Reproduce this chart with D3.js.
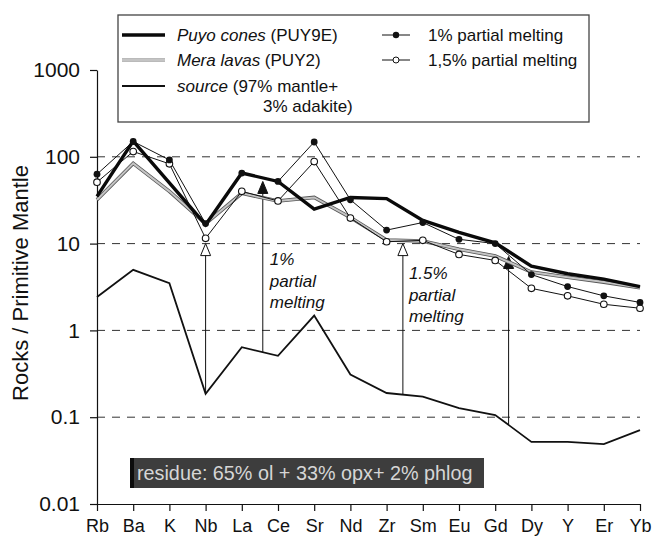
<!DOCTYPE html>
<html>
<head>
<meta charset="utf-8">
<script src="https://cdn.jsdelivr.net/npm/d3@7"></script>
<style>
  html, body { margin: 0; padding: 0; background: #fff; }
  svg { display: block; font-family: "Liberation Sans", Arial, sans-serif; }
</style>
</head>
<body>
<svg id="chart" width="654" height="542"></svg>
<script>
// Trace elements, normalised to primitive mantle
const elements = ["Rb","Ba","K","Nb","La","Ce","Sr","Nd","Zr","Sm","Eu","Gd","Dy","Y","Er","Yb"];
const puyoCones = [35,152,50,16.5,65,52,25,34,33,18.5,13.5,10.2,5.5,4.5,3.9,3.2];
const meraLavas = [32,84,40,17,38,31,34,20,11,10.7,8.6,7.2,4.7,4.1,3.6,3.1];
const melt1     = [63,150,92,17,65,52,148,32,14.3,17.5,11.2,10,4.4,3.2,2.5,2.1];
const melt15    = [51,115,83,11.5,40,31,88,19.7,10.5,10.9,7.5,6.4,3.05,2.5,2.0,1.8];
const source    = [2.42,4.98,3.5,0.186,0.64,0.51,1.48,0.31,0.19,0.173,0.127,0.106,0.052,0.052,0.049,0.071];
const yTicks = [0.01,0.1,1,10,100,1000];
const yTickLabels = ["0.01","0.1","1","10","100","1000"];
const gridValues = [0.1,1,10,100];

// melting arrows: position along the element axis (index), value at the head, head style
const arrowPos   = [3, 4.58, 8.45, 11.37];
const arrowTop   = [10, 52, 10, 7.1];
const arrowOpen  = [true, false, true, false];

const svg = d3.select("#chart");

const x = d3.scalePoint().domain(elements).range([97, 640]);
const xi = d3.scaleLinear().domain([0, elements.length - 1]).range(x.range());
const y = d3.scaleLog().domain([0.01, 1000]).range([504, 70]);

// dashed reference lines
svg.append("g").selectAll("line").data(gridValues).join("line")
  .attr("x1", x.range()[0]).attr("x2", x.range()[1])
  .attr("y1", d => y(d)).attr("y2", d => y(d))
  .attr("stroke", "#333").attr("stroke-width", 1).attr("stroke-dasharray", "8,7");

// axes
const yAxis = svg.append("g").attr("transform", `translate(${x.range()[0]},0)`)
  .call(d3.axisLeft(y).tickValues(yTicks).tickSize(7).tickSizeOuter(0).tickPadding(10)
    .tickFormat((d, i) => yTickLabels[i]));
yAxis.selectAll("text").attr("font-size", 21).attr("fill", "#111")
  .attr("font-family", "Liberation Sans, Arial, sans-serif");

const xAxis = svg.append("g").attr("transform", `translate(0,${y(0.01)})`)
  .call(d3.axisBottom(x).tickSize(7).tickSizeOuter(0).tickPadding(8));
xAxis.selectAll("text").attr("font-size", 18).attr("fill", "#111")
  .attr("font-family", "Liberation Sans, Arial, sans-serif");
svg.selectAll(".domain, .tick line").attr("stroke", "#111").attr("stroke-width", 1.2);

svg.append("text")
  .attr("transform", "translate(28,283) rotate(-90)")
  .attr("text-anchor", "middle").attr("font-size", 22).attr("fill", "#111")
  .text("Rocks / Primitive Mantle");

const line = d3.line().x((d, i) => x(elements[i])).y(d => y(d));

// source curve and arrows from it
svg.append("path").datum(source).attr("d", line)
  .attr("fill", "none").attr("stroke", "#111").attr("stroke-width", 1.8).attr("stroke-linejoin", "miter");

function sourceAt(p) {
  const i = Math.min(Math.floor(p), source.length - 2), t = p - i;
  return Math.pow(10, Math.log10(source[i]) * (1 - t) + Math.log10(source[i + 1]) * t);
}
const arrows = svg.append("g");
arrowPos.forEach((p, k) => {
  const ax = xi(p), yTop = y(arrowTop[k]), yBot = y(sourceAt(p));
  arrows.append("line").attr("x1", ax).attr("x2", ax).attr("y1", yTop + 10).attr("y2", yBot)
    .attr("stroke", "#111").attr("stroke-width", 1);
  arrows.append("path")
    .attr("d", `M${ax},${yTop} L${ax - 5},${yTop + 12} L${ax + 5},${yTop + 12} Z`)
    .attr("fill", arrowOpen[k] ? "#fff" : "#111").attr("stroke", "#111").attr("stroke-width", 1);
});

// annotation labels next to the arrows
const noteLines1 = ["1%", "partial", "melting"];
const noteLines15 = ["1.5%", "partial", "melting"];
function note(lines, ax, yStart) {
  svg.append("g").selectAll("text").data(lines).join("text")
    .attr("x", ax).attr("y", (d, i) => yStart + i * 21.5)
    .attr("font-size", 17).attr("font-style", "italic").attr("fill", "#111")
    .text(d => d);
}
note(noteLines1, xi(arrowPos[1]) + 7, 265);
note(noteLines15, xi(arrowPos[2]) + 6, 279);

// Mera lavas: grey band with dark edges
svg.append("path").datum(meraLavas).attr("d", line)
  .attr("fill", "none").attr("stroke", "#555").attr("stroke-width", 3.6);
svg.append("path").datum(meraLavas).attr("d", line)
  .attr("fill", "none").attr("stroke", "#c4c4c4").attr("stroke-width", 2);

// partial-melting model curves
svg.append("path").datum(melt15).attr("d", line)
  .attr("fill", "none").attr("stroke", "#111").attr("stroke-width", 1);
svg.append("path").datum(melt1).attr("d", line)
  .attr("fill", "none").attr("stroke", "#111").attr("stroke-width", 1);

// Puyo cones: thick black
svg.append("path").datum(puyoCones).attr("d", line)
  .attr("fill", "none").attr("stroke", "#0a0a0a").attr("stroke-width", 3.4).attr("stroke-linejoin", "miter");

svg.append("g").selectAll("circle").data(melt15).join("circle")
  .attr("cx", (d, i) => x(elements[i])).attr("cy", d => y(d)).attr("r", 3.3)
  .attr("fill", "#fff").attr("stroke", "#111").attr("stroke-width", 1.1);
svg.append("g").selectAll("circle").data(melt1).join("circle")
  .attr("cx", (d, i) => x(elements[i])).attr("cy", d => y(d)).attr("r", 3.4)
  .attr("fill", "#111");

// residue box
const residue = svg.append("g");
residue.append("rect").attr("x", 130).attr("y", 458).attr("width", 354).attr("height", 30)
  .attr("fill", "#3d3d3d");
residue.append("rect").attr("x", 130).attr("y", 458).attr("width", 4).attr("height", 30)
  .attr("fill", "#0c0c0c");
residue.append("text").attr("x", 137).attr("y", 480).attr("font-size", 19.8).attr("fill", "#d6d6d6")
  .text("residue: 65% ol + 33% opx+ 2% phlog");

// legend
const legend = svg.append("g");
legend.append("rect").attr("x", 118).attr("y", 15).attr("width", 471).attr("height", 107)
  .attr("fill", "#fff").attr("stroke", "#444").attr("stroke-width", 1.3);

function legendText(g, xPos, yPos, italicPart, rest) {
  const t = g.append("text").attr("x", xPos).attr("y", yPos).attr("dy", "0.35em")
    .attr("font-size", 17).attr("fill", "#111");
  if (italicPart) t.append("tspan").attr("font-style", "italic").text(italicPart);
  t.append("tspan").text(rest);
}
const rowY = [35, 60, 86, 106];
// Puyo
legend.append("line").attr("x1", 122).attr("x2", 165).attr("y1", rowY[0]).attr("y2", rowY[0])
  .attr("stroke", "#0a0a0a").attr("stroke-width", 3.4);
legendText(legend, 177, rowY[0], "Puyo cones", " (PUY9E)");
// Mera
legend.append("line").attr("x1", 122).attr("x2", 165).attr("y1", rowY[1]).attr("y2", rowY[1])
  .attr("stroke", "#777").attr("stroke-width", 3.2);
legend.append("line").attr("x1", 122).attr("x2", 165).attr("y1", rowY[1]).attr("y2", rowY[1])
  .attr("stroke", "#c4c4c4").attr("stroke-width", 1.8);
legendText(legend, 177, rowY[1], "Mera lavas", " (PUY2)");
// source
legend.append("line").attr("x1", 122).attr("x2", 165).attr("y1", rowY[2]).attr("y2", rowY[2])
  .attr("stroke", "#111").attr("stroke-width", 1.8);
legendText(legend, 177, rowY[2], "source", " (97% mantle+");
legendText(legend, 263, rowY[3], null, "3% adakite)");
// model curves
legend.append("line").attr("x1", 382).attr("x2", 410).attr("y1", rowY[0]).attr("y2", rowY[0])
  .attr("stroke", "#111").attr("stroke-width", 1);
legend.append("circle").attr("cx", 396).attr("cy", rowY[0]).attr("r", 3.2).attr("fill", "#111");
legendText(legend, 428, rowY[0], null, "1% partial melting");
legend.append("line").attr("x1", 382).attr("x2", 410).attr("y1", rowY[1]).attr("y2", rowY[1])
  .attr("stroke", "#111").attr("stroke-width", 1);
legend.append("circle").attr("cx", 396).attr("cy", rowY[1]).attr("r", 3).attr("fill", "#fff")
  .attr("stroke", "#111").attr("stroke-width", 1);
legendText(legend, 428, rowY[1], null, "1,5% partial melting");
</script>
</body>
</html>
